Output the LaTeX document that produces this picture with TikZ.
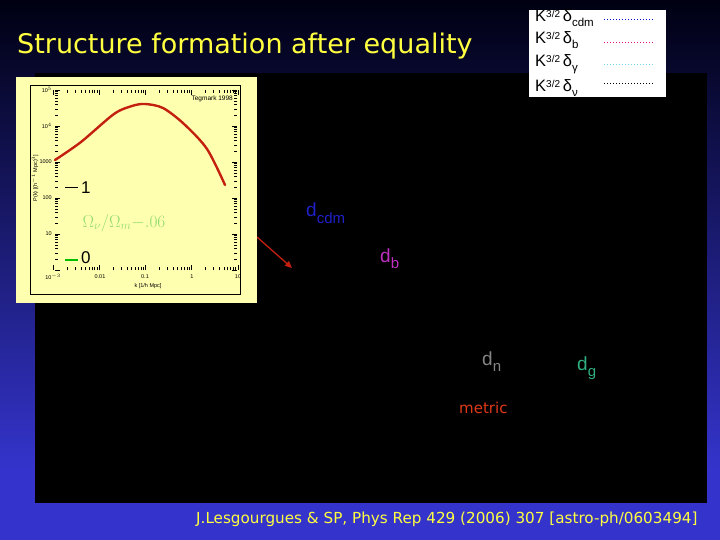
\documentclass[tikz,border=0pt]{standalone}
\usepackage{fontspec}
\setmainfont{Liberation Sans}
\newfontfamily\wideface{DejaVu Sans}
\usetikzlibrary{arrows.meta}
\definecolor{bgtop}{HTML}{000012}
\definecolor{bgmid}{HTML}{181874}
\definecolor{bgbot}{HTML}{3434CC}
\definecolor{panelyel}{HTML}{FFFFB0}
\definecolor{curvered}{HTML}{C42010}
\definecolor{titleyel}{HTML}{FFFF40}
\definecolor{cdmblue}{HTML}{2020C8}
\definecolor{bmag}{HTML}{C030C0}
\definecolor{ngray}{HTML}{858585}
\definecolor{ggreen}{HTML}{30B080}
\definecolor{metricred}{HTML}{E03818}
\definecolor{omgreen}{HTML}{90DA70}
\definecolor{legcyan}{HTML}{70D8E8}
\newcommand\fsz[1]{\fontsize{#1}{#1}\selectfont}
\newcommand\legsup{\raisebox{4.5pt}{\fsz{10}3/2}}
\begin{document}
\begin{tikzpicture}[x=1pt,y=-1pt,
  tinylab/.style={font=\fsz{5.5}, text=black, inner sep=0pt},
  dlab/.style={anchor=base west, inner sep=0pt, font=\fsz{19}},
  legrow/.style={anchor=base west, inner sep=0pt, font=\fsz{16.5}, text=black},
  legline/.style={line width=1pt, dotted},
  tickline/.style={line width=0.5pt, black}]
\useasboundingbox (0,0) rectangle (720,540);
\shade[top color=bgtop, middle color=bgmid, bottom color=bgbot] (0,0) rectangle (720,470);
\fill[bgbot] (0,469.5) rectangle (720,540);
\fill[black] (35,73) rectangle (707,503);

% title
\node[anchor=west, inner sep=0pt, text=titleyel, font=\wideface\fsz{27}] (title) at (17,46) {Structure formation after equality};

% legend box
\fill[white] (529,10) rectangle (666,97);
\node[legrow] (l1) at (535,22) {K\legsup\,δ\raisebox{-0.3em}{\fsz{11.5}cdm}};
\node[legrow] (l2) at (535,44) {K\legsup\,δ\raisebox{-0.3em}{\fsz{11.5}b}};
\node[legrow] (l3) at (535,67) {K\legsup\,δ\raisebox{-0.3em}{\fsz{11.5}γ}};
\node[legrow] (l4) at (535,92) {K\legsup\,δ\raisebox{-0.3em}{\fsz{11.5}ν}};
\draw[legline, blue!80!black] (604,20) -- (653,20);
\draw[legline, magenta!80!purple] (604,43) -- (653,43);
\draw[legline, legcyan] (604,65) -- (653,65);
\draw[legline, black] (604,84) -- (653,84);

% red arrow
\coordinate (arrS) at (257,237);
\coordinate (arrE) at (292,268);
\draw[curvered, line width=1.3pt, -{Triangle[length=7pt,width=6pt]}] (arrS) -- (arrE);

% plot panel
\fill[panelyel] (16,77) rectangle (257,303);
\draw[black, line width=0.9pt] (30,85) rectangle (240,294);
% ticks y
\foreach \d in {0,...,4}{
  \foreach \m in {1,...,9}{
    \pgfmathsetmacro\yy{270-36*(\d+log10(\m))}
    \ifnum\m=1
      \draw[tickline] (55,\yy) -- ++(5,0);
      \draw[tickline] (237,\yy) -- ++(-5,0);
    \else
      \draw[tickline] (55,\yy) -- ++(3,0);
      \draw[tickline] (237,\yy) -- ++(-3,0);
    \fi
  }
}
\draw[tickline] (55,90) -- ++(5,0);
\draw[tickline] (237,90) -- ++(-5,0);
% ticks x
\foreach \d in {0,...,3}{
  \foreach \m in {1,...,9}{
    \pgfmathsetmacro\xx{53+46.2*(\d+log10(\m))}
    \ifnum\m=1
      \draw[tickline] (\xx,270) -- ++(0,-5);
      \draw[tickline] (\xx,90) -- ++(0,5);
    \else
      \draw[tickline] (\xx,270) -- ++(0,-3);
      \draw[tickline] (\xx,90) -- ++(0,3);
    \fi
  }
}
\draw[tickline] (237.8,270) -- ++(0,-5);
\draw[tickline] (237.8,90) -- ++(0,5);
% axis labels
\node[tinylab, anchor=east] (ty5) at (52,90) {10$^5$};
\node[tinylab, anchor=east] (ty4) at (52,126) {10$^4$};
\node[tinylab, anchor=east] (ty3) at (52,162) {1000};
\node[tinylab, anchor=east] (ty2) at (52,198) {100};
\node[tinylab, anchor=east] (ty1) at (52,234) {10};
\node[tinylab] (tx1) at (53,277) {10$^{-3}$};
\node[tinylab] (tx2) at (100,277) {0.01};
\node[tinylab] (tx3) at (145,277) {0.1};
\node[tinylab] (tx4) at (192,277) {1};
\node[tinylab] (tx5) at (238,277) {10};
\node[tinylab] (xtitle) at (148,286) {k [1/h Mpc]};
\node[tinylab, rotate=90] (ytitle) at (35,178) {P(k) [(h$^{-1}$ Mpc)$^3$]};
\node[tinylab, anchor=east, font=\fsz{6.5}] (tegmark) at (233,99) {Tegmark 1998};
% curve
\draw[curvered, line width=2.4pt, line cap=round] plot[smooth] coordinates {(55,160) (81,142) (114,114) (132,106) (145,104) (163,108) (184,124) (207,149) (225,185)};
% panel labels
\draw[black, line width=1pt] (65,188) -- (78,188);
\node[anchor=west, inner sep=0pt, font=\fsz{17}] (one) at (81,188) {1};
\draw[green!75!black, line width=2.5pt] (65,260) -- (78,260);
\node[anchor=west, inner sep=0pt, font=\fsz{17}] (zero) at (81,258) {0};
\node[inner sep=0pt, text=omgreen, font=\fsz{17.5}] (omega) at (124,223) {$\Omega_\nu/\Omega_m{-}.06$};

% perturbation labels
\node[dlab, text=cdmblue] (dcdm) at (306,217) {d\raisebox{-6pt}{\fsz{15}cdm}};
\node[dlab, text=bmag] (db) at (380,262) {d\raisebox{-6pt}{\fsz{15}b}};
\node[dlab, text=ngray] (dn) at (482,365) {d\raisebox{-6pt}{\fsz{15}n}};
\node[dlab, text=ggreen] (dg) at (577,370) {d\raisebox{-6pt}{\fsz{15}g}};
\node[anchor=base west, inner sep=0pt, text=metricred, font=\wideface\fsz{15}] (metric) at (459,413) {metric};

% citation
\node[anchor=base west, inner sep=0pt, text=titleyel, font=\wideface\fsz{15.2}] (cite) at (196,523) {J.Lesgourgues \& SP, Phys Rep 429 (2006) 307 [astro-ph/0603494]};
\end{tikzpicture}
\end{document}
